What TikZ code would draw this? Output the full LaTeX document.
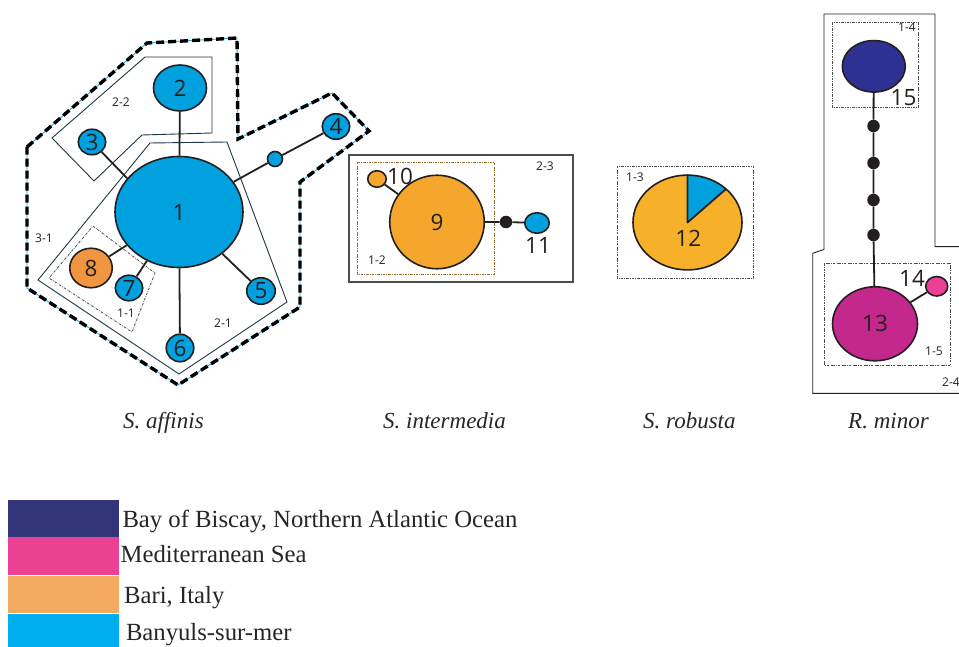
\documentclass[tikz,border=0pt]{standalone}
\usepackage{fontspec}
\setmainfont{Liberation Serif}
\newfontfamily\numfont{Open Sans}
\usetikzlibrary{shapes.geometric}
\definecolor{hcyan}{RGB}{0,161,222}
\definecolor{horangeA}{RGB}{240,150,64}
\definecolor{horangeB}{RGB}{245,166,45}
\definecolor{horangeC}{RGB}{247,176,42}
\definecolor{hblue}{RGB}{46,49,146}
\definecolor{hmagenta}{RGB}{196,40,140}
\definecolor{hpink}{RGB}{236,64,150}
\definecolor{nodeline}{RGB}{35,31,32}
\definecolor{grpline}{RGB}{30,55,70}
\definecolor{dashcyan}{RGB}{41,171,226}
\definecolor{boxbrown}{RGB}{150,110,50}
\definecolor{legblue}{RGB}{51,53,122}
\definecolor{legpink}{RGB}{236,64,148}
\definecolor{legorange}{RGB}{242,169,96}
\definecolor{legcyan}{RGB}{0,174,239}
\begin{document}
\begin{tikzpicture}[x=1pt,y=-1pt,
 hap/.style={ellipse, draw=nodeline, line width=1.6pt, inner sep=0pt, text=nodeline, font=\numfont\fontsize{22.5}{24}\selectfont},
 edge/.style={draw=nodeline, line width=1.8pt},
 mv/.style={circle, fill=nodeline, draw=none, inner sep=0pt, minimum size=12.5pt},
 grplab/.style={font=\numfont\fontsize{12}{12}\selectfont, inner sep=0pt, text=nodeline},
 numlab/.style={font=\numfont\fontsize{22.5}{24}\selectfont, inner sep=0pt, text=nodeline},
 thingrp/.style={draw=grpline, line width=0.9pt, line join=miter},
 dotbox/.style={draw=black!70, line width=0.8pt, dash pattern=on 2.5pt off 1.2pt on 0.6pt off 1.2pt},
 bigdash/.style={draw=black, line width=3.4pt, dash pattern=on 8pt off 4pt},
 bigdashbase/.style={draw=dashcyan, line width=0.9pt},
 species/.style={font=\itshape\fontsize{23}{26}\selectfont, anchor=base west, inner sep=0pt, text=black!85},
 legtext/.style={font=\fontsize{24.7}{27}\selectfont, anchor=base west, inner sep=0pt, text=black!85},
]
\useasboundingbox (0,0) rectangle (959,647);

% ---------- S. affinis group outlines ----------
\draw[bigdashbase] (27,147) -- (147,43) -- (237,38) -- (238,139) -- (332,93) -- (369,131) -- (300,182) -- (300,307) -- (178,385) -- (27,288) -- cycle;
\draw[bigdash] (27,147) -- (147,43) -- (237,38) -- (238,139) -- (332,93) -- (369,131) -- (300,182) -- (300,307) -- (178,385) -- (27,288) -- cycle;
\draw[thingrp] (52,138) -- (145,57) -- (212,57) -- (212,133) -- (142,135) -- (94,181) -- cycle;
\draw[thingrp] (150,143) -- (227,142) -- (287,302) -- (179,374) -- (38,280) -- cycle;
\draw[dotbox] (93,226) -- (155,273) -- (132,332) -- (49,278) -- cycle;

% ---------- S. intermedia boxes ----------
\draw[draw=black!70, line width=1.3pt] (349,155) rectangle (573,282);
\draw[dotbox, draw=boxbrown] (357,162) rectangle (494,274);

% ---------- S. robusta box ----------
\draw[dotbox] (617,166) rectangle (753,278);

% ---------- R. minor outlines ----------
\draw[draw=nodeline, line width=0.9pt] (824,14) -- (935,14) -- (935,246.7) -- (963,246.7) -- (963,393.3) -- (812.7,393.3) -- (812.7,253.3) -- (824,249.5) -- cycle;
\draw[dotbox] (832.3,22.7) rectangle (918.3,107.3);
\draw[dotbox] (824,263.3) rectangle (950.7,365);

% ---------- group labels ----------
\node[grplab] (g22) at (121,102) {2-2};
\node[grplab] (g31) at (44,238.5) {3-1};
\node[grplab] (g11) at (126,313) {1-1};
\node[grplab] (g21) at (223,323.5) {2-1};
\node[grplab] (g23) at (545,166) {2-3};
\node[grplab] (g12) at (377,260) {1-2};
\node[grplab] (g13) at (635,177) {1-3};
\node[grplab] (g14) at (907,27.5) {1-4};
\node[grplab] (g15) at (934,351.5) {1-5};
\node[grplab] (g24) at (951,382.5) {2-4};

% ---------- S. affinis haplotypes ----------
\node[hap, fill=hcyan, minimum width=128pt, minimum height=111pt] (n1) at (179,212) {1};
\node[hap, fill=hcyan, minimum width=53pt, minimum height=46pt] (n2) at (180,88) {2};
\node[hap, fill=hcyan, minimum width=27.5pt, minimum height=25.5pt] (n3) at (92,142) {3};
\node[hap, fill=hcyan, minimum width=27.5pt, minimum height=25.5pt] (n4) at (336,126.5) {4};
\node[hap, fill=hcyan, minimum width=15pt, minimum height=15pt] (s4) at (275,159) {};
\node[hap, fill=hcyan, minimum width=28.5pt, minimum height=26.5pt] (n5) at (261,291) {5};
\node[hap, fill=hcyan, minimum width=27.5pt, minimum height=27.5pt] (n6) at (180,348) {6};
\node[hap, fill=hcyan, minimum width=27.5pt, minimum height=25.5pt] (n7) at (129,288) {7};
\node[hap, fill=horangeA, minimum width=42.5pt, minimum height=39.5pt] (n8) at (91,268) {8};

\draw[edge] (n1) -- (n2);
\draw[edge] (n3) -- (n1.147);
\draw[edge] (n1) -- (s4) -- (n4);
\draw[edge] (n1) -- (n5);
\draw[edge] (n1) -- (n6);
\draw[edge] (n1) -- (n7);
\draw[edge] (n1) -- (n8);

% ---------- S. intermedia haplotypes ----------
\node[hap, fill=horangeB, minimum width=94.5pt, minimum height=93.5pt] (n9) at (437,222) {9};
\node[hap, fill=horangeB, minimum width=18.5pt, minimum height=16.5pt] (n10) at (377,179) {};
\node[mv] (m9) at (506,222) {};
\node[hap, fill=hcyan, minimum width=24.5pt, minimum height=20.5pt] (n11) at (537,223) {};
\node[numlab] (t10) at (400,176.5) {10};
\node[numlab] (t11) at (538,245) {11};
\draw[edge] (n10) -- (n9);
\draw[edge] (n9) -- (m9) -- (n11);

% ---------- S. robusta haplotype (pie) ----------
\node[hap, draw=none, fill=horangeC, minimum width=109pt, minimum height=94.8pt] (n12) at (687.5,222.5) {};
\coordinate (w12) at ({687.5+54.5*cos(45)},{222.5-47.4*sin(45)});
\fill[hcyan] (n12.center) -- plot[domain=45:90, samples=30, variable=\t] ({687.5+54.5*cos(\t)},{222.5-47.4*sin(\t)}) -- cycle;
\draw[edge, line join=round] (n12.north) -- (n12.center) -- (w12);
\draw[draw=nodeline, line width=1.6pt] (n12.center) ellipse [x radius=54.5pt, y radius=47.4pt];
\node[numlab] (t12) at (688.3,238.3) {12};

% ---------- R. minor haplotypes ----------
\node[hap, fill=hblue, minimum width=63pt, minimum height=51.5pt] (n15) at (873.8,66.3) {};
\node[mv] (c1) at (873.5,126) {};
\node[mv] (c2) at (873.5,163) {};
\node[mv] (c3) at (873.5,200) {};
\node[mv] (c4) at (873.5,235) {};
\node[hap, fill=hmagenta, minimum width=85pt, minimum height=74pt] (n13) at (875,323.8) {13};
\node[hap, fill=hpink, minimum width=22pt, minimum height=19.5pt] (n14) at (936.7,286.3) {};
\node[numlab] (t15) at (903.5,97.5) {15};
\node[numlab] (t14) at (912,278.5) {14};
\draw[edge] (n15) -- (c1) -- (c2) -- (c3) -- (c4) -- (n13);
\draw[edge] (n13) -- (n14);

% ---------- species names ----------
\node[species] (sp1) at (123,428) {S. affinis};
\node[species] (sp2) at (383,428) {S. intermedia};
\node[species] (sp3) at (643,428) {S. robusta};
\node[species] (sp4) at (848,428) {R. minor};

% ---------- legend ----------
\fill[legblue] (8,500) rectangle (119,537);
\fill[legpink] (8,537) rectangle (119,575);
\fill[legorange] (8,576) rectangle (119,613);
\fill[legcyan] (8,614) rectangle (119,647);
\node[legtext] (l1) at (122.3,527.7) {Bay of Biscay, Northern Atlantic Ocean};
\node[legtext] (l2) at (120.5,562.7) {Mediterranean Sea};
\node[legtext] (l3) at (124,603.3) {Bari, Italy};
\node[legtext] (l4) at (125.8,640) {Banyuls-sur-mer};
\end{tikzpicture}
\end{document}
